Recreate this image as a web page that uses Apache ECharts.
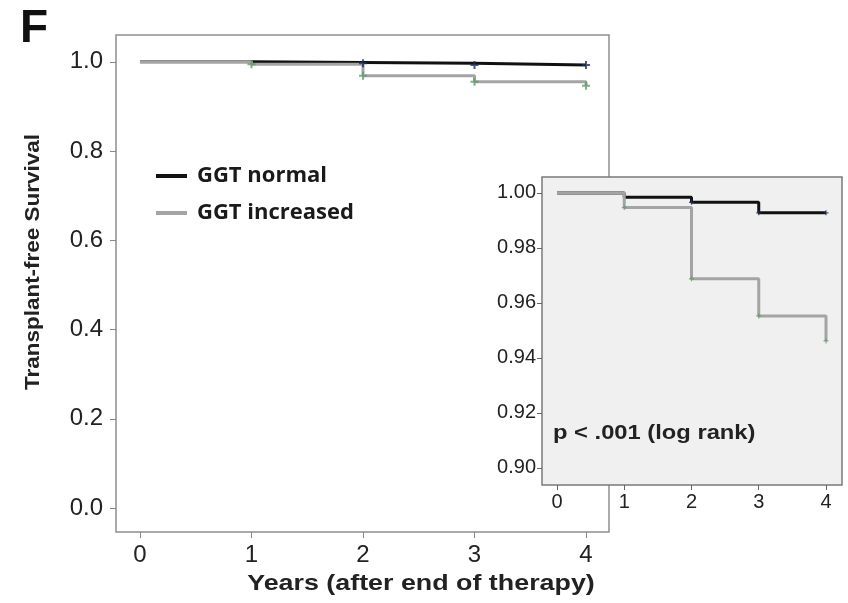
<!DOCTYPE html>
<html>
<head>
<meta charset="utf-8">
<script src="https://cdn.jsdelivr.net/npm/echarts@6/dist/echarts.min.js"></script>
<style>html,body{margin:0;padding:0;background:#fff}#c{width:848px;height:603px}</style>
</head>
<body>
<div id="c"></div>
<script>
// ---- data ----
const years = [0, 1, 2, 3, 4];
const ggtNormal = [1.0, 0.9984, 0.9966, 0.9928, 0.9928];
const ggtIncreased = [1.0, 0.9947, 0.9688, 0.9553, 0.9462];
const normalCensorYears = [2, 3, 4];
const increasedCensorYears = [1, 2, 3, 4];
const mainYTicks = [0, 0.2, 0.4, 0.6, 0.8, 1.0];
const insetYTicks = [0.90, 0.92, 0.94, 0.96, 0.98, 1.00];
const xTicks = [0, 1, 2, 3, 4];
const seriesNames = ['GGT normal', 'GGT increased'];

const pts = (xs, ys) => xs.map((x, i) => [x, ys[i]]);
const censor = (cx, ys) => cx.map(x => [x, ys[years.indexOf(x)]]);

const plus = 'path://M-1,-4 h2 v3 h3 v2 h-3 v3 h-2 v-3 h-3 v-2 h3 z';
const BLACK = '#111111', GREY = '#a4a4a4', GREEN = '#5f9c6c', BLUE = '#1f2d5c';
const font = '"Liberation Sans", Arial, sans-serif';

const chart = echarts.init(document.getElementById('c'), null, {renderer: 'canvas'});

function lineSeries(name, data, color, xi, z) {
  return {type: 'line', name, data, xAxisIndex: xi, yAxisIndex: xi, step: 'end',
    showSymbol: false, symbol: 'none', lineStyle: {color, width: 3}, itemStyle: {color},
    z, animation: false, silent: true};
}
function censorSeries(data, color, xi, size, z) {
  return {type: 'scatter', data, xAxisIndex: xi, yAxisIndex: xi, symbol: plus,
    symbolSize: size, itemStyle: {color}, z, animation: false, silent: true};
}

chart.setOption({
  animation: false,
  graphic: [
    {type: 'text', left: 20, top: 6, style: {text: 'F', font: 'bold 46px ' + font, fill: '#111'}},
    {type: 'text', x: 33, y: 262, rotation: Math.PI / 2, scaleX: 1.07,
      style: {text: 'Transplant-free Survival', font: 'bold 21px ' + font, fill: '#222',
        align: 'center', verticalAlign: 'middle'}},
    {type: 'text', x: 421, y: 584, scaleX: 1.22,
      style: {text: 'Years (after end of therapy)', font: 'bold 22px ' + font, fill: '#222',
        align: 'center', verticalAlign: 'middle'}},
    {type: 'text', x: 553, y: 433, z: 50, scaleX: 1.13,
      style: {text: 'p < .001 (log rank)', font: 'bold 21px ' + font, fill: '#222',
        align: 'left', verticalAlign: 'middle'}}
  ],
  legend: {
    show: true, orient: 'vertical', left: 151, top: 160, itemWidth: 31, itemHeight: 4,
    itemGap: 15, icon: 'rect', selectedMode: false,
    data: seriesNames,
    textStyle: {fontFamily: '"Open Sans", "Noto Sans", sans-serif', fontWeight: 'bold', fontSize: 22,
      color: '#1a1a1a', padding: [0, 0, 0, 5]}
  },
  grid: [
    {left: 116, top: 35, width: 493, height: 497, show: true, borderColor: '#8f8f8f',
      borderWidth: 1.5, backgroundColor: '#ffffff', z: 0},
    {left: 542, top: 177, width: 300, height: 308, show: true, borderColor: '#7a7a7a',
      borderWidth: 1.5, backgroundColor: '#eff0ef', z: 10}
  ],
  xAxis: [
    {type: 'value', gridIndex: 0, min: -0.215, max: 4.206, splitLine: {show: false},
      axisLine: {show: false, onZero: false}, position: 'bottom',
      axisTick: {show: true, length: 6, customValues: xTicks, lineStyle: {color: '#888'}},
      axisLabel: {customValues: xTicks, margin: 11, fontSize: 24, fontFamily: font, color: '#222'}},
    {type: 'value', gridIndex: 1, min: -0.223, max: 4.238, splitLine: {show: false},
      axisLine: {show: false, onZero: false}, position: 'bottom', z: 11,
      axisTick: {show: true, length: 5, customValues: xTicks, lineStyle: {color: '#666'}},
      axisLabel: {customValues: xTicks, margin: 7, fontSize: 20, fontFamily: font, color: '#222'}}
  ],
  yAxis: [
    {type: 'value', gridIndex: 0, min: -0.0538, max: 1.0601, splitLine: {show: false},
      axisLine: {show: false, onZero: false}, position: 'left',
      axisTick: {show: true, length: 6, customValues: mainYTicks, lineStyle: {color: '#888'}},
      axisLabel: {customValues: mainYTicks, margin: 13, fontSize: 24, fontFamily: font, color: '#222',
        formatter: v => v.toFixed(1)}},
    {type: 'value', gridIndex: 1, min: 0.8938, max: 1.0058, splitLine: {show: false},
      axisLine: {show: false, onZero: false}, position: 'left', z: 11,
      axisTick: {show: true, length: 5, customValues: insetYTicks, lineStyle: {color: '#666'}},
      axisLabel: {customValues: insetYTicks, margin: 6, fontSize: 20, fontFamily: font, color: '#222',
        formatter: v => v.toFixed(2)}}
  ],
  series: [
    lineSeries(seriesNames[0], pts(years, ggtNormal), BLACK, 0, 2),
    lineSeries(seriesNames[1], pts(years, ggtIncreased), GREY, 0, 3),
    censorSeries(censor(normalCensorYears, ggtNormal), BLUE, 0, 8, 4),
    censorSeries(censor(increasedCensorYears, ggtIncreased), GREEN, 0, 8, 4),
    lineSeries(seriesNames[0], pts(years, ggtNormal), BLACK, 1, 12),
    lineSeries(seriesNames[1], pts(years, ggtIncreased), GREY, 1, 13),
    censorSeries(censor(normalCensorYears, ggtNormal), BLUE, 1, 5, 14),
    censorSeries(censor(increasedCensorYears, ggtIncreased), GREEN, 1, 5, 14)
  ]
});
</script>
</body>
</html>
